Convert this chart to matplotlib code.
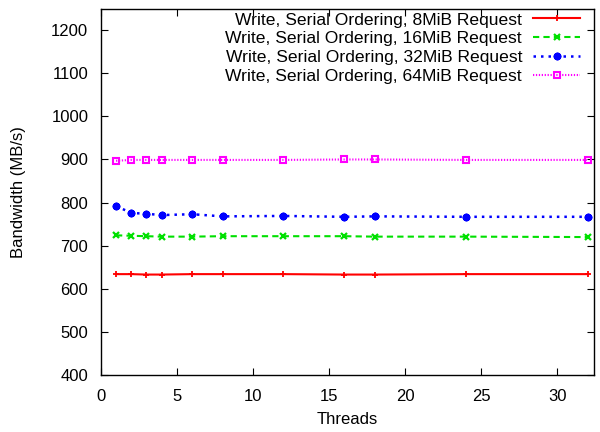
import matplotlib
matplotlib.use("Agg")
import matplotlib.pyplot as plt

plt.rcParams['font.family'] = ['Liberation Sans', 'DejaVu Sans']

threads = [1, 2, 3, 4, 6, 8, 12, 16, 18, 24, 32]
bw_8mib = [634, 634, 633, 633, 634, 634, 634, 633, 633, 634, 634]
bw_16mib = [724, 723, 722, 721, 721, 722, 722, 722, 721, 721, 720]
bw_32mib = [792, 776, 774, 771, 773, 768, 769, 767, 768, 767, 767]
bw_64mib = [897, 899, 899, 899, 899, 899, 899, 900, 900, 899, 899]

labels = [
    "Write, Serial Ordering, 8MiB Request",
    "Write, Serial Ordering, 16MiB Request",
    "Write, Serial Ordering, 32MiB Request",
    "Write, Serial Ordering, 64MiB Request",
]

fig = plt.figure(figsize=(6.0, 4.32), dpi=100)
ax = fig.add_axes([0.168, 0.132, 0.822, 0.848])

ax.plot(threads, bw_8mib, color="#ff0000", linestyle="-", linewidth=1.5,
        marker="+", markersize=5, markeredgewidth=1.3, label=labels[0])
ax.plot(threads, bw_16mib, color="#00e000", linestyle=(0, (3, 2)), linewidth=1.5,
        marker="x", markersize=4.5, markeredgewidth=1.6, label=labels[1])
ax.plot(threads, bw_32mib, color="#0000ff", linestyle=(0, (1, 2)), linewidth=1.8,
        marker=(8, 2, 0), markersize=5.5, markeredgewidth=1.6,
        markerfacecolor="#0000ff", label=labels[2])
ax.plot(threads, bw_32mib, color="#0000ff", linestyle="none",
        marker="s", markersize=3.5, markeredgewidth=0)
ax.plot(threads, bw_64mib, color="#ff00ff", linestyle=(0, (0.6, 0.8)), linewidth=1.5,
        marker="s", markersize=5, markerfacecolor="none", markeredgewidth=1.5,
        label=labels[3])

ax.set_xlim(0, 32.4)
ax.set_ylim(400, 1250)
ax.set_xticks([0, 5, 10, 15, 20, 25, 30])
ax.set_yticks(range(400, 1201, 100))
ax.tick_params(direction="in", length=5, top=True, right=True, labelsize=12,
               width=0.8)
ax.tick_params(axis="x", pad=10)
ax.tick_params(axis="y", pad=9)
for s in ax.spines.values():
    s.set_linewidth(1.0)

ax.set_xlabel("Threads", fontsize=12, labelpad=6)
ax.set_ylabel("Bandwidth (MB/s)", fontsize=12, labelpad=18)

ax.legend(loc="upper right", frameon=False, markerfirst=False, fontsize=12.6,
          handlelength=2.7, handletextpad=0.62, labelspacing=0.2,
          borderpad=0, borderaxespad=0, bbox_to_anchor=(0.972, 0.99))

fig.savefig("out.png", dpi=100)
